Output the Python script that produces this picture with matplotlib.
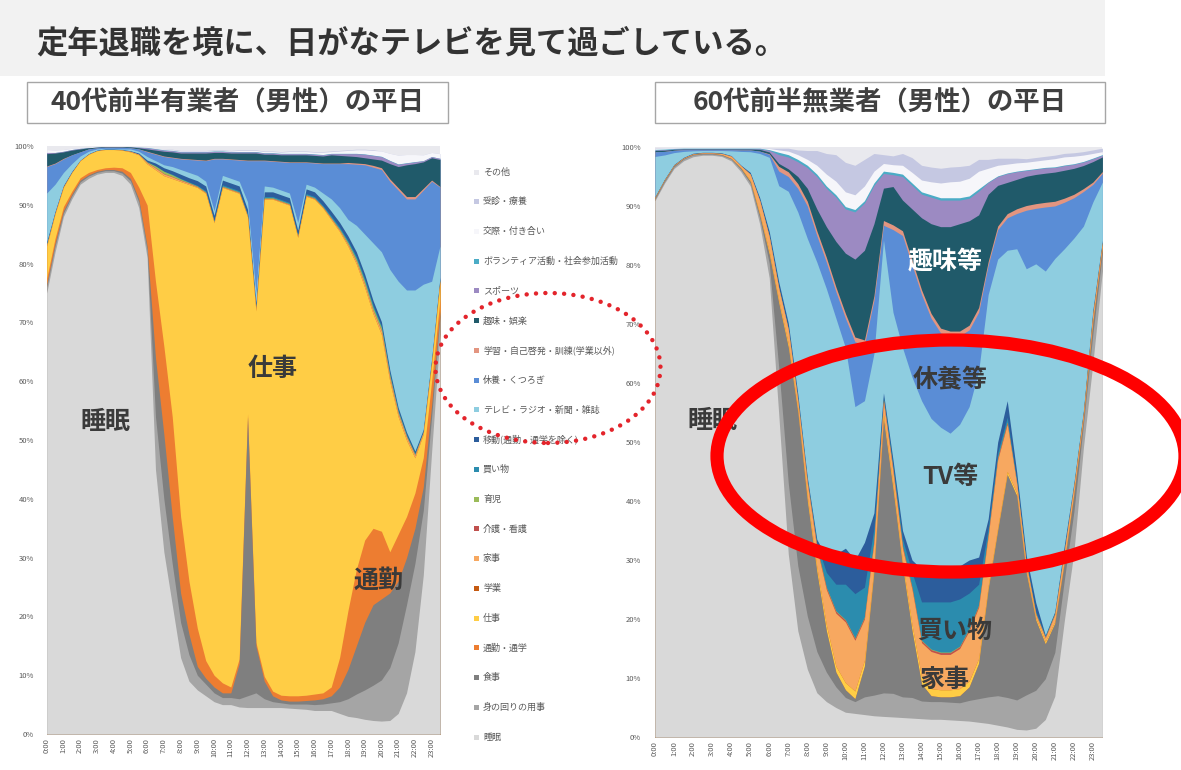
#!/usr/bin/env python3
"""
Weekday time use of men by half hour: early-40s workers vs early-60s non-workers.
Both panels are 100% stacked areas (shares per slot are normalised to 100).
Output: out.png
"""
import numpy as np
import matplotlib
matplotlib.use("Agg")
import matplotlib.pyplot as plt
from matplotlib.patches import Ellipse, Rectangle

W_PX, H_PX = 1181, 770

TITLE = "定年退職を境に、日がなテレビを見て過ごしている。"
LEFT_TITLE = "40代前半有業者（男性）の平日"
RIGHT_TITLE = "60代前半無業者（男性）の平日"

HOUR_LABELS = ["0:00", "1:00", "2:00", "3:00", "4:00", "5:00", "6:00", "7:00",
               "8:00", "9:00", "10:00", "11:00", "12:00", "13:00", "14:00", "15:00",
               "16:00", "17:00", "18:00", "19:00", "20:00", "21:00", "22:00", "23:00"]
HOUR_TICKS = [0, 1, 2, 3, 4, 5, 6, 7, 8, 9, 10, 11, 12, 13, 14, 15, 16, 17, 18, 19, 20, 21, 22, 23]
SLOTS = [0, 0.5, 1, 1.5, 2, 2.5, 3, 3.5, 4, 4.5, 5, 5.5,
         6, 6.5, 7, 7.5, 8, 8.5, 9, 9.5, 10, 10.5, 11, 11.5,
         12, 12.5, 13, 13.5, 14, 14.5, 15, 15.5, 16, 16.5, 17, 17.5,
         18, 18.5, 19, 19.5, 20, 20.5, 21, 21.5, 22, 22.5, 23, 23.5]

# legend order (top of the stack first)
ACTIVITIES = ["その他", "受診・療養", "交際・付き合い", "ボランティア活動・社会参加活動", "スポーツ",
              "趣味・娯楽", "学習・自己啓発・訓練(学業以外)", "休養・くつろぎ", "テレビ・ラジオ・新聞・雑誌",
              "移動(通勤・通学を除く)", "買い物", "育児", "介護・看護", "家事", "学業", "仕事",
              "通勤・通学", "食事", "身の回りの用事", "睡眠"]
COLORS = ["#e9e9ee", "#c5c8e2", "#f6f6fa", "#4bacc6", "#9c8ac2",
          "#205a6a", "#e39580", "#5a8dd6", "#8ecde0",
          "#2c5d9c", "#2b8cae", "#9bbb59", "#c0504d", "#f7a860", "#c55a11", "#ffcd45",
          "#ed7d31", "#7f7f7f", "#a5a5a5", "#d9d9d9"]

# ---- 40代前半有業者（男性）, % of people per half-hour slot ----
M40_SLEEP = [75, 82, 88, 91, 93.5, 94.5, 95.2, 95.5, 95.5, 95, 93.5, 89.5,
             81, 45, 31, 22, 13, 9, 7.5, 6.5, 5.5, 5, 5, 4.6,
             4.5, 4.5, 4.5, 4.5, 4.5, 4.4, 4.3, 4.2, 4, 4, 4, 3.5,
             3, 2.8, 2.5, 2.3, 2.2, 2.3, 3.5, 7, 14, 27, 48, 68]
M40_PERSONAL = [1, 1, 0.6, 0.5, 0.4, 0.4, 0.3, 0.3, 0.3, 0.4, 0.6, 1,
                1.3, 9, 9, 7, 6, 4.5, 2.5, 2, 1.5, 1.2, 1.2, 1.4,
                2, 2.5, 1.5, 1, 0.8, 0.7, 0.8, 0.9, 1, 1.1, 1.3, 2,
                3, 4, 5, 6, 7, 9, 12, 15, 15, 11, 6, 3]
M40_MEAL = [0.5, 0.5, 0.4, 0.3, 0.3, 0.2, 0.2, 0.2, 0.2, 0.3, 0.4, 0.5,
            0.7, 10, 11, 8, 5, 3.5, 1.5, 1, 1, 0.8, 0.8, 6,
            47.5, 8, 3, 1, 0.5, 0.5, 0.5, 0.6, 0.8, 0.9, 1.2, 2.5,
            5, 8.2, 11.5, 13.7, 13.8, 12.7, 10.5, 8, 6, 4, 2, 1]
M40_COMMUTE = [1, 0.8, 0.7, 0.5, 0.4, 0.4, 0.3, 0.3, 0.4, 0.6, 1, 2,
               7, 13, 15, 17, 13, 9, 6.5, 3, 2, 1.7, 1, 0.8,
               0.5, 0.6, 0.8, 0.8, 0.8, 0.9, 0.9, 0.9, 1, 1, 1.5, 5,
               10, 13, 14, 13, 11.5, 7, 8, 7, 6, 5, 4, 2]
M40_WORK = [5.5, 4.2, 3.3, 3.2, 2.9, 3.1, 3.2, 3.1, 3, 3, 3.5, 5.5,
            7, 19, 29, 40.5, 57, 67.5, 75, 79.5, 77, 84.3, 84.5, 79.2,
            33.5, 56.4, 81.2, 83.7, 83.9, 83.5, 78, 84.9, 84.2, 82.5, 79.5, 72.5,
            62, 52, 43, 36.5, 33.5, 29, 20, 13, 6, 4, 3, 3]
M40_SCHOOL = [0, 0, 0, 0, 0, 0, 0, 0, 0, 0, 0, 0,
              0, 0, 0, 0, 0, 0, 0, 0, 0, 0, 0, 0,
              0, 0, 0, 0, 0, 0, 0, 0, 0, 0, 0, 0,
              0, 0, 0, 0, 0, 0, 0, 0, 0, 0, 0, 0]
M40_HOUSEWORK = [0.2, 0.1, 0.1, 0, 0, 0, 0, 0, 0, 0, 0.1, 0.1,
                 0.2, 0.3, 0.3, 0.3, 0.2, 0.2, 0.1, 0.1, 0.1, 0.1, 0.1, 0.1,
                 0.1, 0.1, 0.1, 0.1, 0.1, 0.1, 0.1, 0.1, 0.1, 0.1, 0.2, 0.2,
                 0.3, 0.4, 0.5, 0.5, 0.6, 0.6, 0.5, 0.5, 0.4, 0.3, 0.3, 0.2]
M40_CARE = [0, 0, 0, 0, 0, 0, 0, 0, 0, 0, 0, 0,
            0.05, 0.05, 0.05, 0.05, 0.05, 0.05, 0.05, 0.05, 0.05, 0.05, 0.05, 0.05,
            0.05, 0.05, 0.05, 0.05, 0.05, 0.05, 0.05, 0.05, 0.05, 0.05, 0.05, 0.05,
            0.05, 0.05, 0.05, 0.05, 0.05, 0.05, 0.05, 0.05, 0.05, 0, 0, 0]
M40_CHILDCARE = [0.1, 0, 0, 0, 0, 0, 0, 0, 0, 0, 0, 0,
                 0.1, 0.3, 0.4, 0.3, 0.2, 0.1, 0.1, 0.1, 0.1, 0.1, 0.1, 0.1,
                 0.1, 0.1, 0.1, 0.1, 0.1, 0.1, 0.1, 0.1, 0.1, 0.1, 0.1, 0.2,
                 0.3, 0.4, 0.5, 0.5, 0.5, 0.4, 0.3, 0.2, 0.2, 0.1, 0.1, 0.1]
M40_SHOPPING = [0.1, 0, 0, 0, 0, 0, 0, 0, 0, 0, 0, 0,
                0, 0, 0, 0.1, 0.1, 0.1, 0.1, 0.2, 0.2, 0.2, 0.2, 0.2,
                0.2, 0.2, 0.2, 0.2, 0.2, 0.2, 0.2, 0.2, 0.2, 0.2, 0.3, 0.3,
                0.3, 0.4, 0.4, 0.4, 0.3, 0.3, 0.2, 0.2, 0.1, 0.1, 0.1, 0.1]
M40_MOVE = [0.3, 0.3, 0.2, 0.2, 0.1, 0.1, 0.1, 0.1, 0.1, 0.1, 0.1, 0.2,
            0.3, 0.5, 0.6, 0.6, 0.7, 0.7, 0.8, 0.8, 0.8, 0.8, 0.8, 0.8,
            0.8, 0.8, 0.8, 0.8, 0.8, 0.8, 0.8, 0.8, 0.8, 0.8, 0.8, 0.8,
            0.8, 0.8, 0.8, 0.8, 0.7, 0.6, 0.5, 0.4, 0.4, 0.3, 0.3, 0.3]
M40_TV = [8.3, 4.6, 2.2, 1.3, 0.7, 0.4, 0.2, 0.1, 0.1, 0.1, 0.3, 0.3,
          0.6, 0.4, 0.5, 0.7, 0.8, 0.9, 0.9, 0.8, 0.8, 0.8, 0.8, 0.8,
          1.3, 1.8, 1.0, 0.8, 0.8, 0.8, 1.3, 0.8, 0.8, 1.3, 2.1, 2.5,
          2.8, 4.5, 6.8, 9.8, 11.9, 17.1, 21.5, 24.2, 27.4, 24.7, 13.2, 5.3]
M40_REST = [4.5, 3.5, 2.3, 1.5, 0.7, 0.4, 0.2, 0.2, 0.2, 0.3, 0.2, 0.4,
            0.8, 1.1, 1.4, 1.5, 1.8, 2.2, 2.6, 3.5, 8.8, 2.8, 3.2, 3.6,
            7.0, 22.5, 4.3, 4.4, 4.8, 5.2, 10.2, 3.7, 4.1, 5.0, 6.0, 7.5,
            9.5, 10.4, 11.8, 12.9, 14.0, 15.0, 15.5, 15.5, 15.5, 16.0, 17.0, 10.0]
M40_STUDY = [0.1, 0.1, 0.1, 0, 0, 0, 0, 0, 0, 0, 0, 0,
             0.1, 0.1, 0.1, 0.1, 0.1, 0.1, 0.1, 0.1, 0.1, 0.1, 0.1, 0.1,
             0.1, 0.1, 0.1, 0.1, 0.1, 0.1, 0.1, 0.1, 0.1, 0.1, 0.1, 0.1,
             0.2, 0.2, 0.2, 0.3, 0.3, 0.4, 0.4, 0.4, 0.4, 0.3, 0.2, 0.1]
M40_HOBBY = [2.1, 1.7, 1.1, 0.8, 0.5, 0.2, 0.1, 0.1, 0.1, 0.1, 0.15, 0.2,
             0.4, 0.6, 0.8, 0.9, 0.9, 1.0, 1.1, 1.2, 1.0, 1.0, 1.0, 1.1,
             1.2, 1.2, 1.0, 1.1, 1.1, 1.2, 1.2, 1.2, 1.2, 1.2, 1.4, 1.3,
             1.1, 1.1, 1.0, 1.1, 1.3, 2.6, 3.6, 5.4, 5.6, 4.5, 3.8, 4.6]
M40_SPORTS = [0.2, 0.1, 0.1, 0.1, 0.1, 0, 0, 0, 0, 0, 0, 0.1,
              0.2, 0.2, 0.2, 0.2, 0.2, 0.2, 0.2, 0.2, 0.2, 0.2, 0.2, 0.2,
              0.2, 0.2, 0.2, 0.2, 0.2, 0.2, 0.2, 0.2, 0.2, 0.2, 0.2, 0.3,
              0.4, 0.5, 0.6, 0.6, 0.6, 0.5, 0.4, 0.3, 0.3, 0.2, 0.2, 0.2]
M40_VOLUNTEER = [0, 0, 0, 0, 0, 0, 0, 0, 0, 0, 0, 0,
                 0.05, 0.05, 0.05, 0.05, 0.05, 0.05, 0.05, 0.05, 0.05, 0.05, 0.05, 0.05,
                 0.05, 0.05, 0.05, 0.05, 0.05, 0.05, 0.05, 0.05, 0.05, 0.05, 0.05, 0.05,
                 0.05, 0.05, 0.05, 0.05, 0.05, 0.05, 0.05, 0.05, 0.05, 0, 0, 0]
M40_SOCIAL = [0.5, 0.4, 0.3, 0.2, 0.1, 0.1, 0, 0, 0, 0, 0, 0,
              0, 0, 0.1, 0.1, 0.1, 0.1, 0.1, 0.1, 0.1, 0.1, 0.1, 0.2,
              0.2, 0.2, 0.2, 0.2, 0.2, 0.3, 0.3, 0.3, 0.3, 0.4, 0.3, 0.4,
              0.5, 0.6, 0.7, 0.8, 0.9, 1.2, 1.5, 1.4, 1.2, 1.0, 0.7, 0.8]
M40_MEDICAL = [0, 0, 0, 0, 0, 0, 0, 0, 0, 0, 0, 0,
               0, 0, 0, 0.1, 0.1, 0.1, 0.1, 0.1, 0.1, 0.1, 0.1, 0.1,
               0.1, 0.1, 0.1, 0.1, 0.1, 0.1, 0.1, 0.1, 0.1, 0.1, 0.1, 0.1,
               0.1, 0.1, 0.1, 0.1, 0, 0, 0, 0, 0, 0, 0, 0]
M40_OTHER = [0.6, 0.7, 0.6, 0.4, 0.3, 0.2, 0.2, 0.1, 0.1, 0.1, 0.15, 0.2,
             0.25, 0.45, 0.55, 0.55, 0.75, 0.75, 0.75, 0.75, 0.65, 0.65, 0.75, 0.65,
             0.65, 0.65, 0.85, 0.85, 0.95, 0.85, 0.85, 0.85, 0.95, 0.95, 0.85, 0.75,
             0.65, 0.55, 0.55, 0.65, 0.85, 1.25, 1.55, 1.45, 1.45, 1.5, 1.1, 1.3]

# ---- 60代前半無業者（男性）----
M60_SLEEP = [91, 94, 96.5, 97.8, 98.5, 98.8, 98.8, 98.6, 97.8, 96, 93.5, 87,
             78, 55, 31, 18, 11.5, 7.5, 6, 5, 4.2, 4, 3.8, 3.6,
             3.5, 3.4, 3.3, 3.2, 3.1, 3, 3, 2.9, 2.8, 2.7, 2.5, 2.3,
             2, 1.7, 1.3, 1.2, 1.5, 3, 7, 20, 32, 50, 64, 80]
M60_PERSONAL = [0.3, 0.3, 0.3, 0.3, 0.3, 0.2, 0.2, 0.2, 0.3, 0.4, 0.5, 1,
                2.5, 8, 12, 11, 9, 7, 5, 3.5, 2.5, 2, 3, 3.5,
                4, 4, 3.5, 3.5, 3, 3, 3, 3, 3, 3.5, 4, 4.5,
                5, 5, 5, 6, 6.5, 7, 7.5, 7, 7, 4, 5, 3]
M60_MEAL = [0.2, 0.2, 0.2, 0.1, 0.1, 0.1, 0.1, 0.1, 0.1, 0.2, 0.3, 0.5,
            1.5, 11, 23, 26, 19.5, 13.5, 7, 2.5, 1.3, 0.5, 5.2, 20.9,
            46.5, 34.6, 22.2, 11.3, 2.9, 1, 0.8, 0.9, 1.2, 2.3, 6, 18.2,
            28, 37.8, 34.7, 20.8, 12, 6, 5, 3, 3, 1, 2, 1]
M60_COMMUTE = [0, 0, 0, 0, 0, 0, 0, 0, 0, 0, 0, 0,
               0, 0, 0, 0, 0, 0, 0, 0, 0, 0, 0, 0,
               0, 0, 0, 0, 0, 0, 0, 0, 0, 0, 0, 0,
               0, 0, 0, 0, 0, 0, 0, 0, 0, 0, 0, 0]
M60_WORK = [0, 0, 0, 0, 0, 0, 0, 0, 0, 0.1, 0.2, 0.3,
            0.5, 0.5, 0.6, 0.6, 0.8, 0.8, 1, 1, 1.2, 1.3, 1, 0.8,
            0.8, 0.8, 0.8, 1, 1.2, 1.2, 1.2, 1.2, 1.2, 1, 0.8, 0.6,
            0.5, 0.5, 0.5, 0.5, 0.4, 0.4, 0.3, 0.3, 0.2, 0.1, 0.1, 0]
M60_SCHOOL = [0, 0, 0, 0, 0, 0, 0, 0, 0, 0, 0, 0,
              0, 0, 0, 0, 0, 0, 0, 0, 0, 0, 0, 0,
              0, 0, 0, 0, 0, 0, 0, 0, 0, 0, 0, 0,
              0, 0, 0, 0, 0, 0, 0, 0, 0, 0, 0, 0]
M60_HOUSEWORK = [0.1, 0.1, 0.1, 0.1, 0.1, 0.1, 0.1, 0.2, 0.4, 0.3, 1.0, 2.2,
                 2.5, 2.0, 2.4, 1.4, 2.2, 3.2, 6, 9, 10.3, 8.6, 7, 4.2,
                 2.2, 2.2, 2.2, 6, 5.8, 6.3, 6, 6, 6.8, 8.5, 8.7, 8.4,
                 11.5, 8, 1.5, 1, 0.6, 0.6, 1.2, 1.7, 1.3, 0.9, 1.4, 0.8]
M60_CARE = [0, 0, 0, 0, 0, 0, 0, 0, 0, 0, 0, 0,
            0, 0, 0, 0, 0.3, 0.3, 0.3, 0.3, 0.3, 0.3, 0.3, 0.3,
            0.3, 0.3, 0.3, 0.3, 0.3, 0.3, 0.3, 0.3, 0.3, 0.3, 0.3, 0.3,
            0.3, 0.3, 0.1, 0.1, 0.1, 0.1, 0.1, 0.05, 0.05, 0.05, 0.05, 0.05]
M60_CHILDCARE = [0, 0, 0, 0, 0, 0, 0, 0, 0, 0, 0, 0,
                 0.1, 0.1, 0.1, 0.1, 0.1, 0.1, 0.1, 0.1, 0.1, 0.1, 0.1, 0.1,
                 0.1, 0.1, 0.1, 0.1, 0.1, 0.1, 0.1, 0.1, 0.1, 0.1, 0.1, 0.1,
                 0.1, 0.1, 0.1, 0.1, 0.1, 0.1, 0.1, 0.05, 0.05, 0.05, 0.05, 0.05]
M60_SHOPPING = [0, 0, 0, 0, 0, 0, 0, 0, 0, 0, 0, 0,
                0, 0, 0, 0, 0.2, 0.4, 2.5, 4.5, 6, 7.5, 5, 2,
                0.4, 0.6, 1.2, 2.5, 6.5, 8, 8.5, 8.5, 8, 6, 3.5, 1.0,
                0.8, 0.8, 0.5, 0.3, 0.3, 0.1, 0.1, 0.1, 0, 0, 0, 0]
M60_MOVE = [0.1, 0.1, 0.1, 0.1, 0.1, 0.1, 0.1, 0.1, 0.1, 0.1, 0.3, 0.5,
            0.8, 1, 1, 1, 0.4, 0.7, 2.6, 5.1, 6.1, 5.7, 7.6, 2.6,
            0.7, 1.0, 1.4, 2.1, 5.6, 5.6, 5.1, 5.6, 5.6, 5.6, 4.6, 1.6,
            1.8, 2.8, 1.3, 1.0, 1.5, 0.2, 0.2, 0.8, 0.4, 0.3, 0.5, 0.3]
M60_TV = [6.8, 4.1, 2.0, 1.0, 0.4, 0.3, 0.3, 0.4, 0.8, 2.3, 3.5, 7.5,
          12.6, 16.4, 22.3, 30.8, 40.5, 47, 45.5, 40, 34, 26, 24, 27,
          26, 25, 31, 31, 28.5, 25.5, 24.5, 23, 24, 26, 31.5, 38,
          31, 25.5, 38, 49, 58, 62.5, 60.5, 51, 42.5, 32, 18.5, 10]
M60_REST = [0.8, 0.6, 0.4, 0.3, 0.2, 0.15, 0.15, 0.15, 0.2, 0.25, 0.3, 0.4,
            0.5, 2.5, 2.5, 4, 5.5, 4.5, 4.5, 4.5, 5, 11, 9.5, 9,
            2.5, 14, 19, 19, 18, 17, 16, 16.5, 15, 13, 10, 5,
            5, 5.5, 6, 10, 9.5, 11, 9, 8, 7, 6, 3, 1.5]
M60_STUDY = [0, 0, 0, 0, 0, 0, 0, 0, 0, 0, 0, 0,
             0.1, 0.8, 0.8, 0.8, 0.8, 0.8, 0.8, 0.8, 0.8, 0.8, 0.8, 0.8,
             0.8, 0.8, 0.8, 0.8, 0.8, 0.8, 0.8, 0.8, 0.8, 0.8, 0.8, 0.6,
             0.6, 0.7, 0.8, 0.8, 0.8, 0.8, 0.8, 0.7, 0.6, 0.5, 0.4, 0.3]
M60_HOBBY = [0.2, 0.2, 0.15, 0.1, 0.1, 0.1, 0.1, 0.1, 0.1, 0.15, 0.15, 0.3,
             0.3, 0.5, 0.5, 1.2, 2.2, 3.7, 5.2, 7.7, 10.2, 13.2, 15.2, 12.2,
             5.5, 6.5, 5.2, 8.7, 12.2, 15.2, 17.2, 17.7, 18.2, 17.7, 15.7, 11.4,
             6.9, 5.3, 5, 5, 5, 5, 5, 4.8, 4.5, 4, 3.5, 2.5]
M60_SPORTS = [0.1, 0.1, 0.05, 0.05, 0.05, 0.05, 0.05, 0.05, 0.05, 0.05, 0.05, 0.1,
              0.3, 1.5, 2, 2.5, 3.5, 5.5, 6.5, 7.5, 7.5, 8, 8, 6.5,
              2.5, 2, 4, 4, 4, 4.5, 4.5, 4.5, 4, 3.8, 4, 2,
              1.5, 1.5, 1.3, 1, 0.9, 0.9, 0.8, 0.8, 0.7, 0.6, 0.5, 0.3]
M60_VOLUNTEER = [0.1, 0.1, 0.1, 0.1, 0.1, 0.1, 0.1, 0.1, 0.1, 0.1, 0.1, 0.1,
                 0.1, 0.4, 0.4, 0.4, 0.4, 0.4, 0.4, 0.4, 0.4, 0.4, 0.4, 0.4,
                 0.4, 0.4, 0.4, 0.4, 0.4, 0.4, 0.4, 0.4, 0.4, 0.4, 0.4, 0.1,
                 0.1, 0.1, 0.1, 0.1, 0.1, 0.1, 0.1, 0.1, 0.1, 0.1, 0.1, 0.1]
M60_SOCIAL = [0.2, 0.2, 0.1, 0.05, 0.05, 0.05, 0.05, 0.05, 0.05, 0.05, 0.05, 0.05,
              0.2, 0.4, 0.6, 0.8, 1, 1.5, 2, 2.3, 2.5, 2.5, 2.5, 2,
              1.3, 1.3, 1.5, 1.8, 2, 2.2, 2.5, 2.7, 2.8, 3, 3, 2.3,
              1.8, 1.5, 1.4, 1.3, 1.3, 1.3, 1.4, 1.4, 1.3, 1.1, 0.8, 0.5]
M60_MEDICAL = [0.05, 0.05, 0.05, 0.05, 0.05, 0.05, 0.05, 0.05, 0.05, 0.05, 0.05, 0.05,
               0.05, 0.3, 0.5, 0.8, 1.5, 2.5, 3.5, 4.5, 5, 5, 4.5, 3,
               1.5, 1.5, 2, 2.5, 2.5, 2.5, 2.5, 2.5, 2.5, 2.2, 2, 1.5,
               1.2, 1, 0.8, 0.6, 0.6, 0.6, 0.6, 0.6, 0.6, 0.6, 0.6, 0.6]
M60_OTHER = [0.15, 0.1, 0.1, 0.1, 0.1, 0.1, 0.1, 0.1, 0.1, 0.1, 0.1, 0.1,
             0.2, 0.2, 0.2, 0.5, 0.6, 0.6, 1.1, 1.3, 2.6, 3.1, 2.1, 1.1,
             1.3, 1.5, 1.1, 1.8, 3.1, 3.4, 3.6, 3.4, 3.3, 3.1, 2.1, 2.1,
             1.9, 1.9, 1.9, 2.0, 1.8, 1.6, 1.4, 1.1, 1.0, 0.8, 0.5, 0.2]

# same order as ACTIVITIES
M40 = [M40_OTHER, M40_MEDICAL, M40_SOCIAL, M40_VOLUNTEER, M40_SPORTS, M40_HOBBY, M40_STUDY,
       M40_REST, M40_TV, M40_MOVE, M40_SHOPPING, M40_CHILDCARE, M40_CARE, M40_HOUSEWORK,
       M40_SCHOOL, M40_WORK, M40_COMMUTE, M40_MEAL, M40_PERSONAL, M40_SLEEP]
M60 = [M60_OTHER, M60_MEDICAL, M60_SOCIAL, M60_VOLUNTEER, M60_SPORTS, M60_HOBBY, M60_STUDY,
       M60_REST, M60_TV, M60_MOVE, M60_SHOPPING, M60_CHILDCARE, M60_CARE, M60_HOUSEWORK,
       M60_SCHOOL, M60_WORK, M60_COMMUTE, M60_MEAL, M60_PERSONAL, M60_SLEEP]

TEXT_DARK = "#3a3a3a"
TICK_GREY = "#595959"


def px_box(x0, y0, x1, y1):
    """pixel box (origin top-left) -> [left, bottom, width, height] in figure fraction"""
    return [x0 / W_PX, 1 - y1 / H_PX, (x1 - x0) / W_PX, (y1 - y0) / H_PX]


def draw_panel(ax, series, ylabel_pad):
    # bottom layer first for the stack
    vals = np.array(series[::-1], dtype=float)
    colors = COLORS[::-1]
    shares = vals / vals.sum(axis=0) * 100
    tops = np.cumsum(shares, axis=0)
    # paint from the top layer down, so neighbouring layers leave no seams
    for k in range(len(tops) - 1, -1, -1):
        ax.fill_between(SLOTS, 0, tops[k], color=colors[k], linewidth=0)

    ax.set_xlim(0, 23.5)
    ax.set_ylim(0, 100)
    ax.set_xticks(HOUR_TICKS)
    ax.set_xticklabels(HOUR_LABELS, rotation=90, fontsize=5.5, color=TICK_GREY)
    ax.set_yticks(range(0, 101, 10))
    ax.set_yticklabels([f"{v}%" for v in range(0, 101, 10)], fontsize=5.5, color=TICK_GREY)
    ax.tick_params(axis="both", length=0)
    ax.tick_params(axis="y", pad=ylabel_pad)
    ax.tick_params(axis="x", pad=3)
    for s in ax.spines.values():
        s.set_visible(False)


def label(ax, x, y, text, color=TEXT_DARK):
    ax.text(x, y, text, ha="center", va="center", fontsize=18, fontweight="bold", color=color)


def main():
    plt.rcParams["font.family"] = ["Noto Sans CJK JP", "DejaVu Sans"]
    fig = plt.figure(figsize=(W_PX / 100, H_PX / 100), dpi=100)
    fig.patch.set_facecolor("white")

    # header band + title
    fig.add_artist(Rectangle((0, 1 - 76 / H_PX), 1105 / W_PX, 76 / H_PX,
                             transform=fig.transFigure, facecolor="#f2f2f2", edgecolor="none", zorder=0))
    fig.text(36 / W_PX, 1 - 44 / H_PX, TITLE, fontsize=22.5, fontweight="bold",
             color="#333333", va="center", ha="left")

    # panel captions
    for (x0, x1), txt in [((27, 448), LEFT_TITLE), ((655, 1105), RIGHT_TITLE)]:
        fig.add_artist(Rectangle((x0 / W_PX, 1 - 123 / H_PX), (x1 - x0) / W_PX, 41 / H_PX,
                                 transform=fig.transFigure, facecolor="white",
                                 edgecolor="#a6a6a6", linewidth=1.0, zorder=1))
        fig.text((x0 + x1) / 2 / W_PX, 1 - 103 / H_PX, txt, fontsize=19, fontweight="bold",
                 color="#404040", ha="center", va="center", zorder=2)

    ax_l = fig.add_axes(px_box(46.7, 146, 440, 734))
    draw_panel(ax_l, M40, ylabel_pad=9)
    label(ax_l, 3.5, 53, "睡眠")
    label(ax_l, 13.5, 62, "仕事")
    label(ax_l, 19.8, 26, "通勤")

    ax_r = fig.add_axes(px_box(655, 147, 1102.4, 737))
    draw_panel(ax_r, M60, ylabel_pad=10)
    label(ax_r, 3.0, 53.5, "睡眠")
    label(ax_r, 15.25, 80.5, "趣味等", color="white")
    label(ax_r, 15.5, 60.5, "休養等")
    label(ax_r, 15.5, 44, "TV等")
    label(ax_r, 15.75, 18, "買い物")
    label(ax_r, 15.25, 9.7, "家事")

    # legend between the panels (same colours as the stacks)
    for j, (name, col) in enumerate(zip(ACTIVITIES, COLORS)):
        y = 1 - (172 + j * 29.74) / H_PX
        fig.add_artist(Rectangle((474 / W_PX, y - 2.5 / H_PX), 5 / W_PX, 5 / H_PX,
                                 transform=fig.transFigure, facecolor=col,
                                 edgecolor="none", zorder=3))
        fig.text(483 / W_PX, y, name, fontsize=6.5, color=TICK_GREY, va="center", ha="left")

    # highlight marks
    fig.add_artist(Ellipse((548 / W_PX, 1 - 368 / H_PX), 225 / W_PX, 150 / H_PX,
                           transform=fig.transFigure, fill=False, edgecolor="#e3242b",
                           linewidth=3.2, linestyle=(0, (0.01, 2.1)), capstyle="round", zorder=5))
    fig.add_artist(Ellipse((951 / W_PX, 1 - 456 / H_PX), 468 / W_PX, 232 / H_PX,
                           transform=fig.transFigure, fill=False, edgecolor="#ff0000",
                           linewidth=9.5, zorder=5))

    fig.savefig("out.png", dpi=100)
    plt.close(fig)


if __name__ == "__main__":
    main()
